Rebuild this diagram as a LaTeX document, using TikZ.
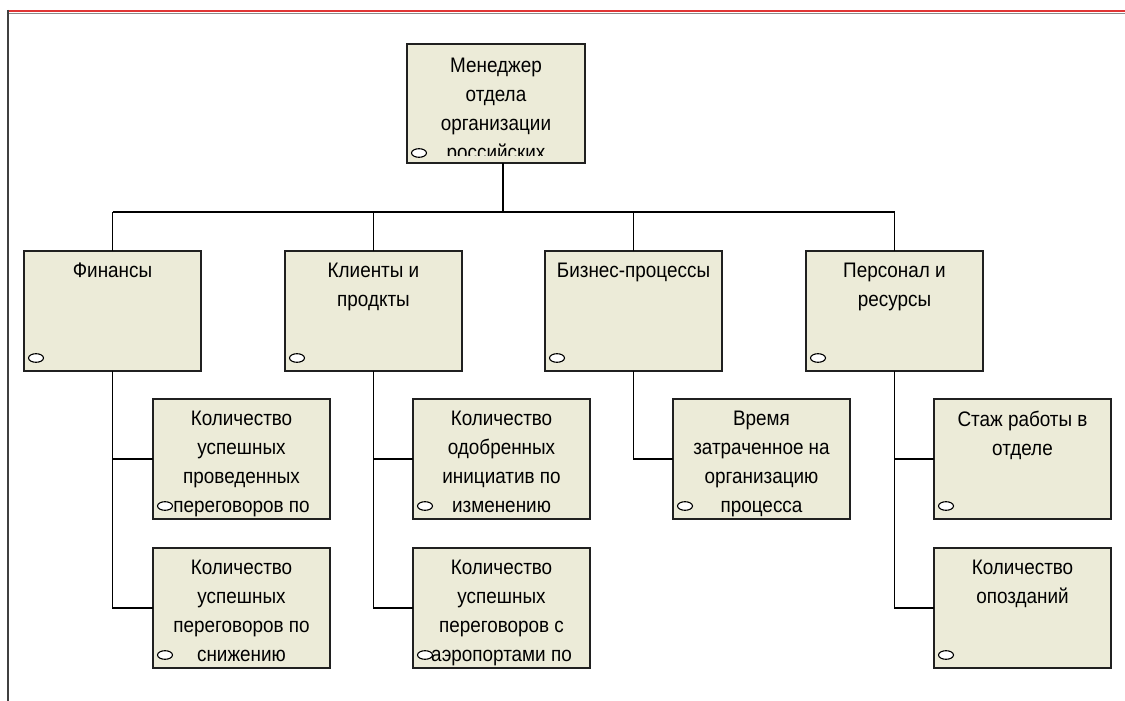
\documentclass[tikz,border=0pt]{standalone}
\usepackage{fontspec}
\setmainfont[FakeStretch=0.9]{Liberation Sans}

\definecolor{boxfill}{HTML}{ECEBD8}
\definecolor{edge}{HTML}{202020}
\definecolor{rulered}{HTML}{E03535}
\definecolor{rulegray}{HTML}{8A8A8A}
\definecolor{frame}{HTML}{404040}

% Box with a top-aligned caption and a small oval marker in its lower-left corner
\newcommand{\kbox}[4]{%
  \node[box] (#1) at (#2,#3) {};
  \node[lbl] (#1-t) at ([yshift=-12pt]#1.north) {#4};
  \draw[icon] ([xshift=12pt,yshift=13pt]#1.south west) ellipse [x radius=7.5, y radius=4.3];
}

\begin{document}
\begin{tikzpicture}[x=1pt,y=-1pt,
  box/.style={draw=edge, line width=1.6pt, fill=boxfill, rectangle, anchor=north west,
              minimum width=177pt, minimum height=120pt, inner sep=0pt, outer sep=0pt},
  lbl/.style={anchor=north, align=center, inner sep=0pt,
              font=\fontsize{21}{29}\selectfont, text=black},
  wire/.style={draw=black, line width=1.4pt},
  icon/.style={draw=black, fill=white, line width=1.1pt}]

\useasboundingbox (0,0) rectangle (1125,701);
\fill[white] (0,0) rectangle (1125,701);

% page frame: red rule along the top, thin line down the left side
\draw[rulegray, line width=1.2pt] (8,13.5) -- (1125,13.5);
\draw[rulered, line width=2.8pt] (8,11) -- (1125,11);
\draw[frame, line width=1.6pt] (8,10) -- (8,701);

% root
\node[box, minimum height=119pt, minimum width=178pt] (root) at (407,44) {};
\begin{scope}
  \clip (409,46) rectangle (583,155.5);
  \node[lbl] (root-t) at ([yshift=-14pt]root.north) {Менеджер\\отдела\\организации\\российских};
\end{scope}
\draw[icon] ([xshift=12pt,yshift=10pt]root.south west) ellipse [x radius=7.5, y radius=4.3];

% second level
\kbox{fin}{24}{251}{Финансы}
\kbox{cli}{285}{251}{Клиенты и\\продкты}
\kbox{biz}{545}{251}{Бизнес-процессы}
\kbox{per}{806}{251}{Персонал и\\ресурсы}

% indicators
\kbox{f1}{153}{399}{Количество\\успешных\\проведенных\\переговоров по}
\kbox{f2}{153}{548}{Количество\\успешных\\переговоров по\\снижению}
\kbox{c1}{413}{399}{Количество\\одобренных\\инициатив по\\изменению}
\kbox{c2}{413}{548}{Количество\\успешных\\переговоров с\\аэропортами по}
\kbox{b1}{673}{399}{Время\\затраченное на\\организацию\\процесса}
\kbox{p1}{934}{399}{Стаж работы в\\отделе}
\kbox{p2}{934}{548}{Количество\\опозданий}

% connectors
\coordinate (hub) at (503,212);
\draw[wire] (root.south -| hub) -- (hub);
\draw[wire] (fin.north |- hub) -- (per.north |- hub);
\foreach \n in {fin,cli,biz,per}
  \draw[wire] (\n.north |- hub) -- (\n.north);

\draw[wire] (fin.south) |- (f2.west);
\draw[wire] (fin.south |- f1.west) -- (f1.west);
\draw[wire] (cli.south) |- (c2.west);
\draw[wire] (cli.south |- c1.west) -- (c1.west);
\draw[wire] (biz.south) |- (b1.west);
\draw[wire] (per.south) |- (p2.west);
\draw[wire] (per.south |- p1.west) -- (p1.west);

\end{tikzpicture}
\end{document}
